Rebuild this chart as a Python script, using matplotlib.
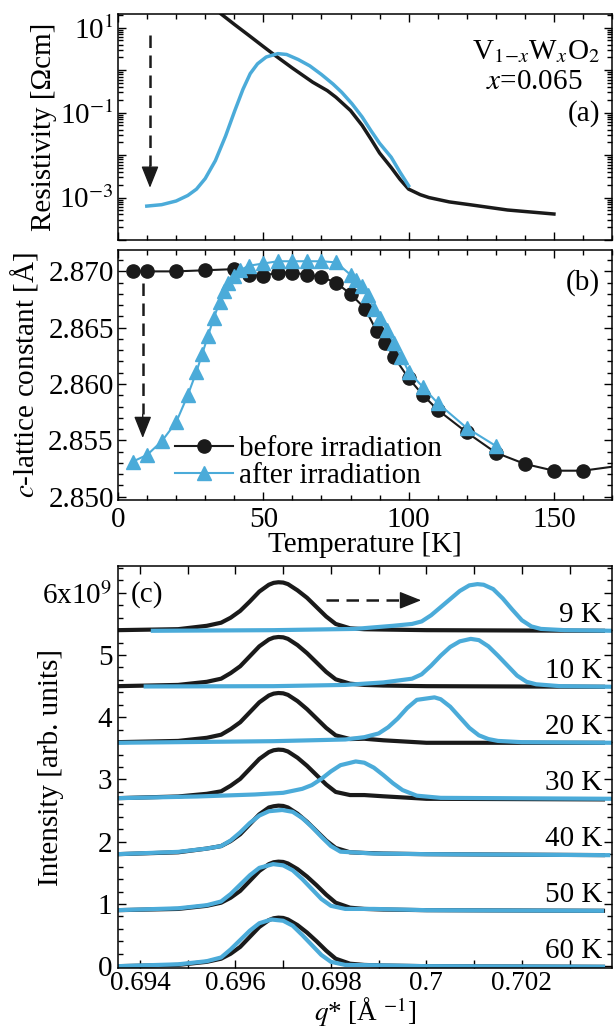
import numpy as np
import matplotlib.pyplot as plt
from matplotlib.ticker import MultipleLocator, LogLocator, FuncFormatter, NullFormatter

plt.rcParams['font.family'] = ['Liberation Serif', 'DejaVu Serif']
plt.rcParams['mathtext.fontset'] = 'stix'
plt.rcParams['font.size'] = 21
plt.rcParams['axes.linewidth'] = 1.1

azul = '#4babd9'
negro = '#1a1a1a'

# ---- (a) resistividad [Ohm cm] vs T [K]
T_rho_antes = [35.5, 40, 45, 50, 53.6, 60, 67, 72, 75, 80, 84, 87, 90, 94, 97, 100,
               104, 107, 114, 121, 134, 150]
rho_antes = [20.9, 12.0, 6.6, 3.6, 2.34, 1.12, 0.52, 0.33, 0.23, 0.112, 0.050, 0.024,
             0.0112, 0.0051, 0.0027, 0.00158, 0.00117, 0.0010, 0.00079, 0.00068,
             0.00051, 0.00041]
T_rho_despues = [9.9, 15, 20, 24, 27, 30, 33.5, 37, 40.2, 43, 45.5, 48, 51, 55, 58, 62,
                 66, 70, 74, 77, 80.5, 84, 87, 90, 94, 97, 100]
rho_despues = [0.00063, 0.00068, 0.00083, 0.00112, 0.00158, 0.0028, 0.0074, 0.028,
               0.112, 0.355, 0.83, 1.41, 2.04, 2.45, 2.34, 1.78, 1.26, 0.79, 0.47,
               0.30, 0.162, 0.079, 0.038, 0.019, 0.0089, 0.0040, 0.0019]

# ---- (b) parametro de red c [A] vs T [K]
T_antes = [5, 10, 20, 30, 40, 45, 50, 55, 60, 65, 70, 75, 80, 85, 89, 92, 95, 100,
           105, 110, 120, 130, 140, 150, 160, 180]
c_antes = [2.8700, 2.8700, 2.8700, 2.8701, 2.8702, 2.8697, 2.8696, 2.8699, 2.8699,
           2.8697, 2.8695, 2.8690, 2.8680, 2.8667, 2.8647, 2.8636, 2.8624, 2.8605,
           2.8590, 2.8577, 2.8557, 2.8539, 2.8529, 2.8523, 2.8523, 2.8530]
T_despues = [5, 10, 15, 20, 24, 27, 29, 31, 33, 35, 36.5, 38, 40, 42, 45, 50, 55, 60,
             65, 70, 75, 80, 82, 84, 86, 88, 90, 92.5, 95, 97.5, 100, 105, 110, 120, 130]
c_despues = [2.8531, 2.8537, 2.8549, 2.8566, 2.8590, 2.8611, 2.8627, 2.8643, 2.8659,
             2.8673, 2.8683, 2.8690, 2.8696, 2.8701, 2.8705, 2.8707, 2.8709, 2.8709,
             2.8709, 2.8709, 2.8708, 2.8697, 2.8692, 2.8687, 2.8679, 2.8667, 2.8659,
             2.8648, 2.8636, 2.8624, 2.8611, 2.8597, 2.8583, 2.8561, 2.8545]

# ---- (c) perfiles de intensidad (unidades de 1e9), cada temperatura desplazada
temps = ['9 K', '10 K', '20 K', '30 K', '40 K', '50 K', '60 K']
offset = [5.4, 4.5, 3.6, 2.7, 1.8, 0.9, 0.0]

q_neg = [0.69353, 0.6948, 0.6954, 0.6957, 0.6959, 0.6961, 0.6963, 0.6965, 0.6967,
         0.6968, 0.6969, 0.6970, 0.6971, 0.6973, 0.6975, 0.6977, 0.6979, 0.6981,
         0.6984, 0.6987, 0.6991, 0.7000, 0.7037]
I_neg = [
    [0.0, 0.016, 0.07, 0.12, 0.20, 0.31, 0.46, 0.62, 0.73, 0.76, 0.77, 0.765, 0.74, 0.64, 0.52, 0.37, 0.22, 0.10, 0.03, 0.015, 0.01, 0.0, -0.01],
    [0.0, 0.02, 0.07, 0.12, 0.21, 0.32, 0.48, 0.64, 0.75, 0.78, 0.79, 0.785, 0.76, 0.66, 0.53, 0.38, 0.23, 0.11, 0.04, 0.02, 0.01, 0.0, -0.01],
    [0.0, 0.02, 0.07, 0.12, 0.21, 0.32, 0.48, 0.64, 0.75, 0.78, 0.79, 0.785, 0.76, 0.66, 0.53, 0.38, 0.23, 0.11, 0.05, 0.055, 0.03, -0.01, -0.01],
    [0.0, 0.027, 0.07, 0.11, 0.20, 0.31, 0.47, 0.63, 0.74, 0.77, 0.78, 0.775, 0.75, 0.65, 0.52, 0.37, 0.22, 0.10, 0.05, 0.05, 0.03, -0.01, -0.02],
    [0.0, 0.03, 0.09, 0.13, 0.21, 0.32, 0.48, 0.64, 0.75, 0.77, 0.78, 0.775, 0.75, 0.65, 0.52, 0.37, 0.22, 0.10, 0.03, 0.02, 0.01, 0.0, -0.015],
    [0.0, 0.02, 0.07, 0.12, 0.20, 0.31, 0.47, 0.63, 0.74, 0.77, 0.78, 0.775, 0.75, 0.66, 0.54, 0.40, 0.25, 0.12, 0.04, 0.02, 0.01, 0.0, -0.01],
    [0.0, 0.02, 0.07, 0.12, 0.20, 0.31, 0.47, 0.63, 0.74, 0.77, 0.78, 0.775, 0.75, 0.66, 0.54, 0.40, 0.25, 0.12, 0.04, 0.02, 0.01, 0.0, -0.01],
]

q_azul = [
    [0.69427, 0.6968, 0.6985, 0.6993, 0.6997, 0.6999, 0.7001, 0.7003, 0.7005, 0.7007, 0.7009, 0.70107, 0.7012, 0.7014, 0.7016, 0.7018, 0.7020, 0.7022, 0.7024, 0.7029, 0.7039],
    [0.69412, 0.6968, 0.6983, 0.6991, 0.6995, 0.6997, 0.6999, 0.7001, 0.7003, 0.7005, 0.7007, 0.70093, 0.7011, 0.7013, 0.7015, 0.7017, 0.7019, 0.7021, 0.7023, 0.7028, 0.7039],
    [0.69353, 0.6968, 0.6983, 0.6987, 0.6990, 0.6992, 0.6994, 0.6996, 0.6998, 0.70017, 0.7003, 0.7005, 0.7007, 0.7009, 0.7011, 0.7013, 0.7015, 0.7020, 0.7039],
    [0.69353, 0.6952, 0.6964, 0.6970, 0.6974, 0.6976, 0.6978, 0.6980, 0.6982, 0.69852, 0.6987, 0.6989, 0.6991, 0.6993, 0.6995, 0.6998, 0.7003, 0.7039],
    [0.69353, 0.6948, 0.6954, 0.6957, 0.6959, 0.6961, 0.6963, 0.6965, 0.6967, 0.69698, 0.6972, 0.6974, 0.6976, 0.6978, 0.6980, 0.6982, 0.6989, 0.7000, 0.70381],
    [0.69353, 0.6948, 0.6954, 0.6957, 0.6959, 0.6961, 0.6963, 0.6965, 0.69679, 0.6970, 0.6972, 0.6974, 0.6976, 0.6978, 0.6980, 0.6983, 0.6989, 0.7000, 0.70368],
    [0.69353, 0.6948, 0.6954, 0.6957, 0.6959, 0.6961, 0.6963, 0.6965, 0.69675, 0.6970, 0.6972, 0.6974, 0.6976, 0.6978, 0.6980, 0.6983, 0.6989, 0.7000, 0.7037],
]
I_azul = [
    [-0.01, 0.0, 0.02, 0.07, 0.10, 0.14, 0.24, 0.37, 0.50, 0.63, 0.72, 0.74, 0.73, 0.66, 0.51, 0.33, 0.16, 0.06, 0.02, 0.0, -0.01],
    [-0.005, 0.0, 0.02, 0.06, 0.10, 0.12, 0.19, 0.33, 0.49, 0.63, 0.72, 0.76, 0.74, 0.64, 0.49, 0.33, 0.17, 0.07, 0.03, 0.0, -0.01],
    [-0.01, 0.016, 0.043, 0.08, 0.14, 0.24, 0.38, 0.55, 0.68, 0.72, 0.69, 0.57, 0.40, 0.23, 0.11, 0.05, 0.02, 0.0, -0.01],
    [0.0, 0.027, 0.059, 0.086, 0.15, 0.21, 0.31, 0.43, 0.53, 0.59, 0.57, 0.49, 0.37, 0.24, 0.13, 0.04, 0.005, -0.01],
    [0.0, 0.037, 0.09, 0.13, 0.22, 0.35, 0.50, 0.62, 0.69, 0.71, 0.68, 0.58, 0.44, 0.28, 0.13, 0.04, 0.01, 0.0, -0.016],
    [0.0, 0.03, 0.08, 0.14, 0.26, 0.41, 0.56, 0.68, 0.74, 0.72, 0.64, 0.50, 0.34, 0.18, 0.07, 0.02, 0.02, 0.0, -0.01],
    [0.0, 0.03, 0.08, 0.14, 0.27, 0.42, 0.57, 0.69, 0.75, 0.73, 0.65, 0.50, 0.34, 0.18, 0.07, 0.02, 0.015, 0.0, -0.01],
]


def ticks(ax):
    ax.tick_params(which='both', direction='in', top=True, right=True, width=1.0)
    ax.tick_params(which='major', length=6, pad=5)
    ax.tick_params(which='minor', length=3.5)


def flecha(ax, ini, fin, cabeza):
    # linea discontinua + punta llena
    ax.plot([ini[0], cabeza[0]], [ini[1], cabeza[1]], ls=(0, (5, 3)), lw=1.8, color=negro)
    ax.annotate('', xy=fin, xytext=cabeza,
                arrowprops=dict(arrowstyle='-|>,head_length=0.75,head_width=0.3',
                                lw=1.0, color=negro, shrinkA=0, shrinkB=0,
                                mutation_scale=18))


fig = plt.figure(figsize=(6.15, 10.36), dpi=100)
axa = fig.add_axes([0.1919, 0.7683, 0.8033, 0.2182])
axb = fig.add_axes([0.1919, 0.5174, 0.8033, 0.2413])
axc = fig.add_axes([0.1919, 0.0656, 0.8033, 0.3880])

# (a)
axa.plot(T_rho_antes, rho_antes, color=negro, lw=2.5)
axa.plot(T_rho_despues, rho_despues, color=azul, lw=2.5)
axa.set_yscale('log')
axa.set_xlim(0, 170)
axa.set_ylim(1e-4, 21)
axa.yaxis.set_major_locator(LogLocator(base=10, numticks=20))
axa.yaxis.set_minor_locator(LogLocator(base=10, subs=np.arange(2, 10), numticks=20))
axa.yaxis.set_minor_formatter(NullFormatter())
etiq = {1: '10$^{1}$', -1: '10$^{-1}$', -3: '10$^{-3}$'}
axa.yaxis.set_major_formatter(FuncFormatter(
    lambda v, p: etiq.get(int(round(np.log10(v))), '')))
axa.xaxis.set_major_locator(MultipleLocator(50))
axa.xaxis.set_minor_locator(MultipleLocator(10))
axa.tick_params(labelbottom=False)
ticks(axa)
axa.tick_params(axis='y', pad=3)
axa.set_ylabel('Resistivity [Ωcm]', va='center')
axa.yaxis.set_label_coords(-0.15, 0.5)
flecha(axa, (11, 10**0.83), (11, 10**-2.77), (11, 10**-2.25))
axa.text(0.976, 0.80, r'V$_{1\!-\!x}$W$_{x}$O$_{2}$', transform=axa.transAxes,
         ha='right', va='baseline')
axa.text(0.745, 0.67, r'$x$=0.065', transform=axa.transAxes, ha='left', va='baseline')
axa.text(0.976, 0.528, '(a)', transform=axa.transAxes, ha='right', va='baseline')

# (b)
axb.plot(T_antes, c_antes, '-o', color=negro, lw=1.5, ms=9.5, label='before irradiation')
axb.plot(T_despues, c_despues, '-^', color=azul, lw=1.5, ms=10.5, label='after irradiation')
axb.set_xlim(0, 170)
axb.set_ylim(2.8497, 2.8719)
axb.xaxis.set_major_locator(MultipleLocator(50))
axb.xaxis.set_minor_locator(MultipleLocator(10))
axb.yaxis.set_major_locator(MultipleLocator(0.005))
axb.yaxis.set_minor_locator(MultipleLocator(0.001))
axb.yaxis.set_major_formatter(FuncFormatter(lambda v, p: f'{v:.3f}'))
ticks(axb)
axb.tick_params(axis='y', pad=3)
axb.set_xlabel('Temperature [K]', labelpad=-1)
axb.set_ylabel(r'$c$-lattice constant [Å]', va='center')
axb.yaxis.set_label_coords(-0.19, 0.5)
axb.legend(loc='lower left', bbox_to_anchor=(0.115, 0.045), frameon=False,
           handlelength=2.0, handletextpad=0.2, labelspacing=0.0,
           borderpad=0, borderaxespad=0)
flecha(axb, (8.5, 2.8690), (8.5, 2.8552), (8.5, 2.8573))
axb.text(0.976, 0.868, '(b)', transform=axb.transAxes, ha='right', va='center')

# (c)
for i in range(len(temps)):
    axc.plot(q_neg, np.array(I_neg[i]) + offset[i], color=negro, lw=3)
for i in range(len(temps)):
    axc.plot(q_azul[i], np.array(I_azul[i]) + offset[i], color=azul, lw=3)
    axc.text(0.98, offset[i] + 0.24, temps[i], transform=axc.get_yaxis_transform(),
             ha='right', va='center')
axc.set_xlim(0.69354, 0.70389)
axc.set_ylim(-0.03, 6.43)
axc.xaxis.set_major_locator(MultipleLocator(0.002))
axc.xaxis.set_minor_locator(MultipleLocator(0.001))
axc.xaxis.set_major_formatter(FuncFormatter(lambda v, p: f'{v:g}'))
axc.yaxis.set_major_locator(MultipleLocator(1))
axc.yaxis.set_minor_locator(MultipleLocator(0.2))
axc.yaxis.set_major_formatter(FuncFormatter(
    lambda v, p: '6x10$^{9}$' if round(v) == 6 else f'{v:.0f}'))
ticks(axc)
axc.tick_params(axis='x', which='minor', length=6)
axc.tick_params(axis='x', pad=2, labelsize=19.5)
axc.tick_params(axis='y', pad=4)
axc.set_xlabel(r'$q$* [Å $^{-1}$]', labelpad=0, fontsize=19.5)
axc.set_ylabel('Intensity [arb. units]', va='center')
axc.yaxis.set_label_coords(-0.135, 0.5)
flecha(axc, (0.6979, 5.88), (0.69989, 5.88), (0.69955, 5.88))
axc.text(0.026, 5.98, '(c)', transform=axc.get_yaxis_transform(), ha='left', va='center')

plt.savefig('out.png', dpi=100)
